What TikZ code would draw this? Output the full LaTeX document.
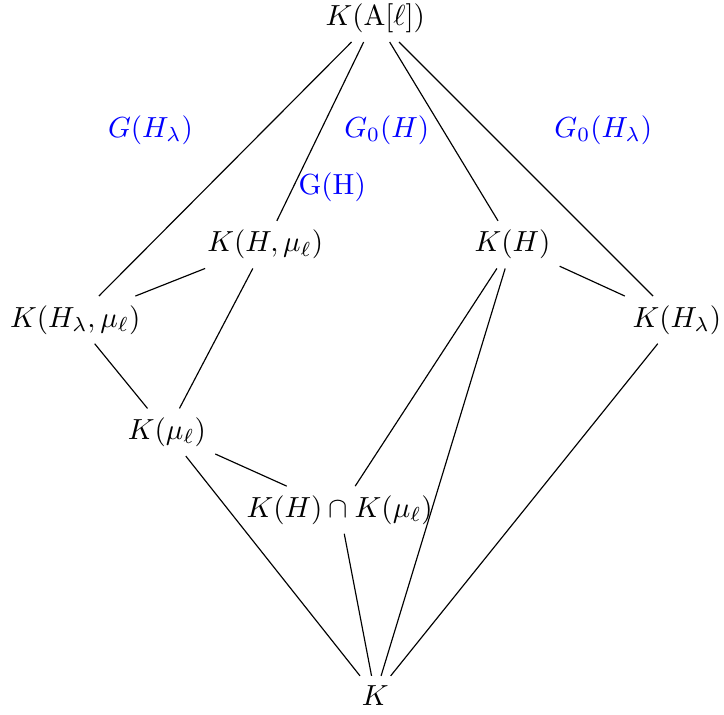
\documentclass[tikz,border=0pt]{standalone}
\usepackage{amsmath,amssymb}
\usepackage{xcolor}
\usepackage{tikz}
\usetikzlibrary{positioning}
\definecolor{galblue}{HTML}{0000FF}

\begin{document}
\begin{tikzpicture}[field/.style={inner sep=3pt},grp/.style={text=galblue}]
  \useasboundingbox (0,0) rectangle (8.76,8.65);
  \node[field] (top) at (4.54,8.43) {$K(\mathrm{A}[\ell])$};
  \node[field] (hmu) at (3.21,5.69) {$K(H,\mu_\ell)$};
  \node[field] (h) at (6.20,5.69) {$K(H)$};
  \node[field] (hlmu) at (0.91,4.78) {$K(H_\lambda,\mu_\ell)$};
  \node[field] (hl) at (8.19,4.78) {$K(H_\lambda)$};
  \node[field] (mu) at (2.02,3.42) {$K(\mu_\ell)$};
  \node[field] (cap) at (4.11,2.48) {$K(H)\cap K(\mu_\ell)$};
  \node[field] (base) at (4.54,0.24) {$K$};
  % Galois groups
  \node[grp] (g1) at (1.82,7.08) {$G(H_\lambda)$};
  \node[grp] (g2) at (4.68,7.08) {$G_0(H)$};
  \node[grp] (g3) at (7.30,7.08) {$G_0(H_\lambda)$};
  \node[grp] (g4) at (4.02,6.39) {$\mathrm{G(H)}$};
  \draw (top) -- (hlmu); \draw (top) -- (hmu);
  \draw (top) -- (h); \draw (top) -- (hl);
  \draw (hmu) -- (hlmu); \draw (h) -- (hl);
  \draw (hlmu) -- (mu); \draw (hmu) -- (mu);
  \draw (mu) -- (cap); \draw (h) -- (cap);
  \draw (mu) -- (base); \draw (cap) -- (base);
  \draw (h) -- (base); \draw (hl) -- (base);
\end{tikzpicture}
\end{document}
